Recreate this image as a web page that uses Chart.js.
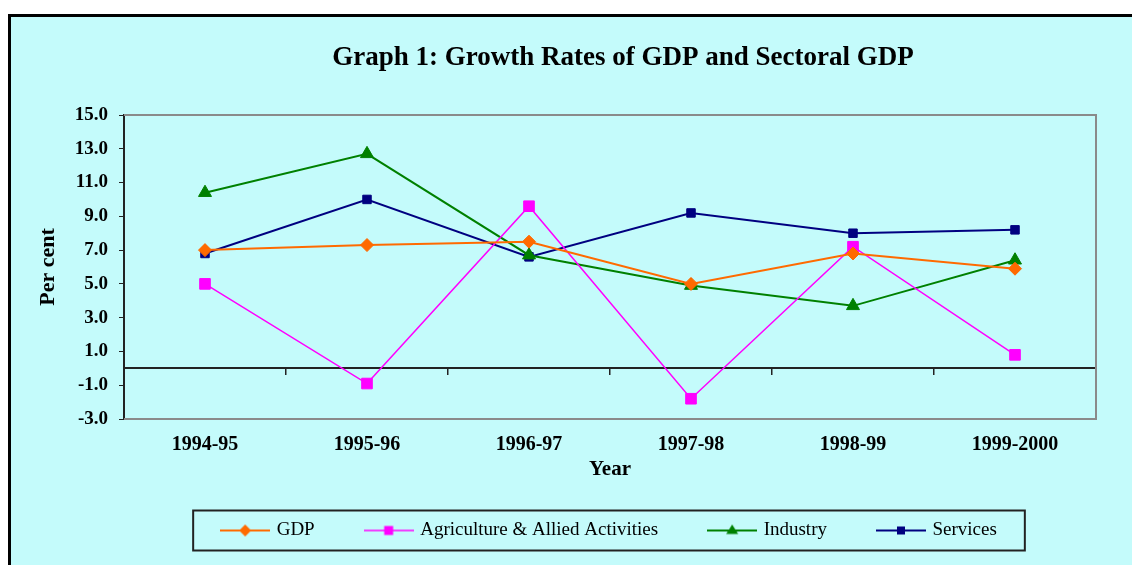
<!DOCTYPE html>
<html>
<head>
<meta charset="utf-8">
<script src="https://cdn.jsdelivr.net/npm/chart.js@4"></script>
<style>
  html, body { margin: 0; padding: 0; background: #ffffff; }
  #wrap { width: 1132px; height: 565px; }
</style>
</head>
<body>
<div id="wrap"><canvas id="growthChart" width="1132" height="565"></canvas></div>
<script>
// data
const years = ["1994-95", "1995-96", "1996-97", "1997-98", "1998-99", "1999-2000"];
const gdp = [7.0, 7.3, 7.5, 5.0, 6.8, 5.9];
const agriculture = [5.0, -0.9, 9.6, -1.8, 7.2, 0.8];
const industry = [10.4, 12.7, 6.7, 4.9, 3.7, 6.4];
const services = [6.8, 10.0, 6.6, 9.2, 8.0, 8.2];
const yMin = -3, yMax = 15, yStep = 2;

const serif = "'Liberation Serif', 'Times New Roman', serif";
const bg = "#c4fbfb";

// small canvas with line + marker, used as legend symbol
function legendSymbol(color, style, r, lw) {
  const c = document.createElement("canvas");
  c.width = 50;
  c.height = 16;
  const g = c.getContext("2d");
  g.strokeStyle = color;
  g.fillStyle = color;
  g.lineWidth = lw;
  g.beginPath();
  g.moveTo(0, 8);
  g.lineTo(50, 8);
  g.stroke();
  g.beginPath();
  if (style === "rectRot") {
    g.moveTo(25, 8 - r); g.lineTo(25 + r, 8); g.lineTo(25, 8 + r); g.lineTo(25 - r, 8);
  } else if (style === "triangle") {
    g.moveTo(25, 8 - r); g.lineTo(25 + r, 8 + r * 0.6); g.lineTo(25 - r, 8 + r * 0.6);
  } else {
    g.rect(25 - r, 8 - r, 2 * r, 2 * r);
  }
  g.closePath();
  g.fill();
  return c;
}

const series = [
  { label: "GDP", data: gdp, color: "#ff6a00", style: "rectRot", radius: 6.5, width: 2, sym: legendSymbol("#ff6a00", "rectRot", 6, 2) },
  { label: "Agriculture & Allied Activities", data: agriculture, color: "#ff00ff", style: "rect", radius: 7.5, width: 1.5, sym: legendSymbol("#ff00ff", "rect", 4.5, 1.5) },
  { label: "Industry", data: industry, color: "#008000", style: "triangle", radius: 7.5, width: 2, sym: legendSymbol("#008000", "triangle", 6, 2) },
  { label: "Services", data: services, color: "#000080", style: "rect", radius: 6, width: 2, sym: legendSymbol("#000080", "rect", 4, 2) }
];

// page background, frame, title
const framePlugin = {
  id: "frame",
  beforeDraw(chart) {
    const ctx = chart.ctx;
    ctx.save();
    ctx.fillStyle = "#ffffff";
    ctx.fillRect(0, 0, chart.width, chart.height);
    ctx.fillStyle = bg;
    ctx.fillRect(8, 14, chart.width - 8, chart.height - 14);
    ctx.strokeStyle = "#000000";
    ctx.lineWidth = 3;
    ctx.beginPath();
    ctx.moveTo(9.5, chart.height);
    ctx.lineTo(9.5, 15.5);
    ctx.lineTo(chart.width, 15.5);
    ctx.stroke();
    ctx.fillStyle = "#000000";
    ctx.font = "bold 27px " + serif;
    ctx.textAlign = "center";
    ctx.textBaseline = "middle";
    ctx.fillText("Graph 1: Growth Rates of GDP and Sectoral GDP", 623, 58);
    ctx.restore();
  },
  beforeDatasetsDraw(chart) {
    const { ctx, chartArea: a } = chart;
    ctx.save();
    ctx.strokeStyle = "#8a8a8a";
    ctx.lineWidth = 2;
    ctx.beginPath();
    ctx.moveTo(a.left, a.top);
    ctx.lineTo(a.right, a.top);
    ctx.lineTo(a.right, a.bottom);
    ctx.lineTo(a.left, a.bottom);
    ctx.stroke();
    ctx.restore();
  },
  afterDraw(chart) {
    const hb = chart.legend.legendHitBoxes;
    if (!hb || !hb.length) return;
    const last = hb[hb.length - 1];
    const cy = hb[0].top + hb[0].height / 2;
    const ctx = chart.ctx;
    const x0 = hb[0].left - 30;
    const x1 = last.left + last.width + 28;
    ctx.save();
    ctx.strokeStyle = "#222222";
    ctx.lineWidth = 2;
    ctx.strokeRect(x0, cy - 20, x1 - x0, 40);
    ctx.restore();
  }
};

const ctx = document.getElementById("growthChart").getContext("2d");
const chart = new Chart(ctx, {
  type: "line",
  data: {
    labels: years,
    datasets: series.map((s) => ({
      label: s.label,
      data: s.data,
      borderColor: s.color,
      backgroundColor: s.color,
      borderWidth: s.width,
      pointStyle: s.style,
      pointRadius: s.radius,
      pointHoverRadius: s.radius,
      pointBorderWidth: 1,
      pointBackgroundColor: s.color,
      pointBorderColor: s.color,
      tension: 0,
      fill: false
    }))
  },
  plugins: [framePlugin],
  options: {
    responsive: false,
    animation: false,
    events: [],
    layout: { padding: { top: 115, left: 0, right: 36, bottom: 15 } },
    plugins: {
      tooltip: { enabled: false },
      title: { display: false },
      legend: {
        position: "bottom",
        fullSize: false,
        labels: {
          usePointStyle: true,
          pointStyleWidth: 44,
          padding: 52,
          color: "#000000",
          font: { family: serif, size: 19 },
          generateLabels(chart) {
            return Chart.defaults.plugins.legend.labels.generateLabels(chart).map((item, i) => {
              item.pointStyle = series[i].sym;
              return item;
            });
          }
        }
      }
    },
    scales: {
      x: {
        offset: true,
        grid: { display: false, offset: true },
        border: { display: false },
        ticks: {
          color: "#000000",
          padding: 6,
          maxRotation: 0,
          autoSkip: false,
          font: { family: serif, size: 20, weight: "bold" }
        },
        title: {
          display: true,
          text: "Year",
          color: "#000000",
          padding: { top: 0, bottom: -13 },
          font: { family: serif, size: 21, weight: "bold" }
        },
        afterFit(scale) { scale.height = 50; }
      },
      // zero line with category tick marks
      x2: {
        type: "category",
        position: { y: 0 },
        offset: true,
        grid: { offset: true, drawOnChartArea: false, drawTicks: true, tickLength: 6, color: "#222222", lineWidth: 1.5 },
        border: { display: true, color: "#222222", width: 2 },
        ticks: { display: false }
      },
      y: {
        min: yMin,
        max: yMax,
        grid: { drawOnChartArea: false, drawTicks: true, tickLength: 5, color: "#222222" },
        border: { display: true, color: "#222222", width: 2 },
        ticks: {
          stepSize: yStep,
          padding: 11,
          color: "#000000",
          font: { family: serif, size: 19, weight: "bold" },
          callback: (v) => Number(v).toFixed(1)
        },
        title: {
          display: true,
          text: "Per cent",
          color: "#000000",
          padding: { top: 35, bottom: 0 },
          font: { family: serif, size: 22, weight: "bold" }
        },
        afterFit(scale) { scale.width = 124; }
      }
    }
  }
});
</script>
</body>
</html>
